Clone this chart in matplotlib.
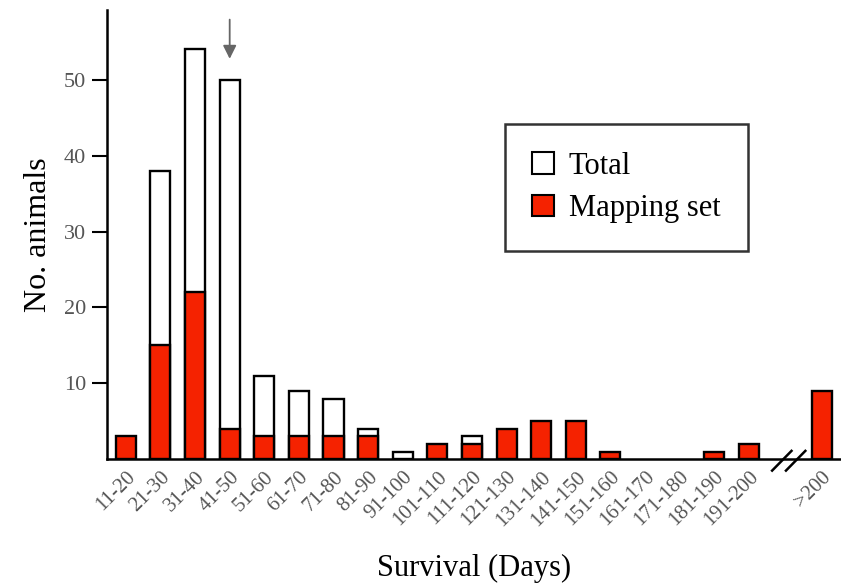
import matplotlib
matplotlib.use("Agg")
import matplotlib.pyplot as plt
from matplotlib.patches import Patch

categories = ['11-20', '21-30', '31-40', '41-50', '51-60', '61-70', '71-80', '81-90',
              '91-100', '101-110', '111-120', '121-130', '131-140', '141-150', '151-160',
              '161-170', '171-180', '181-190', '191-200', '>200']
total = [3, 38, 54, 50, 11, 9, 8, 4, 1, 2, 3, 4, 5, 5, 1, 0, 0, 1, 2, 9]
mapping = [3, 15, 22, 4, 3, 3, 3, 3, 0, 2, 2, 4, 5, 5, 1, 0, 0, 1, 2, 9]

RED = '#f52200'
GRAY = '#555555'

plt.rcParams['font.family'] = ['Liberation Serif', 'DejaVu Serif']

# last bin sits past an axis break
xpos = list(range(len(categories) - 1)) + [20.1]

fig = plt.figure(figsize=(8.41, 5.88), dpi=100)
ax = fig.add_axes([0.127, 0.219, 0.873, 0.764])

w = 0.58
for x, t, m in zip(xpos, total, mapping):
    if t > m:
        ax.bar(x, t, width=w, color='white', edgecolor='black', linewidth=1.7, zorder=2)
    if m > 0:
        ax.bar(x, m, width=w, color=RED, edgecolor='black', linewidth=1.7, zorder=3)

ax.set_xlim(-0.55, 20.66)
ax.set_ylim(0, 59.2)

ax.set_xticks(xpos)
ax.set_xticklabels(categories, rotation=45, ha='right', rotation_mode='anchor',
                   fontsize=15, color=GRAY)
ax.tick_params(axis='x', length=0, pad=6)
ax.set_yticks([10, 20, 30, 40, 50])
ax.tick_params(axis='y', length=11, width=1.5, labelsize=16, labelcolor=GRAY, pad=4)

for s in ['top', 'right']:
    ax.spines[s].set_visible(False)
ax.spines['left'].set_linewidth(1.8)
ax.spines['bottom'].set_linewidth(1.8)

ax.set_ylabel('No. animals', fontsize=23, labelpad=8)
ax.set_xlabel('Survival (Days)', fontsize=22, labelpad=17)

# axis break marks
for bx in [18.95, 19.35]:
    ax.plot([bx - 0.28, bx + 0.28], [-1.5, 1.1], color='black', lw=1.8,
            clip_on=False, zorder=5)

# arrow over the 41-50 bin
ax.annotate('', xy=(3, 52.4), xytext=(3, 58.3),
            arrowprops=dict(arrowstyle='-|>', color='#666666', lw=1.3, mutation_scale=20))

handles = [Patch(facecolor='white', edgecolor='black', linewidth=1.5, label='Total'),
           Patch(facecolor=RED, edgecolor='black', linewidth=1.5, label='Mapping set')]
leg = ax.legend(handles=handles, loc='upper left', bbox_to_anchor=(0.542, 0.746),
                fontsize=22, frameon=True, fancybox=False, handlelength=0.7,
                handleheight=0.7, handletextpad=0.5, borderpad=0.9, labelspacing=0.45,
                borderaxespad=0)
leg.get_frame().set_edgecolor('black')
leg.get_frame().set_linewidth(1.8)

fig.savefig('out.png', dpi=100)
